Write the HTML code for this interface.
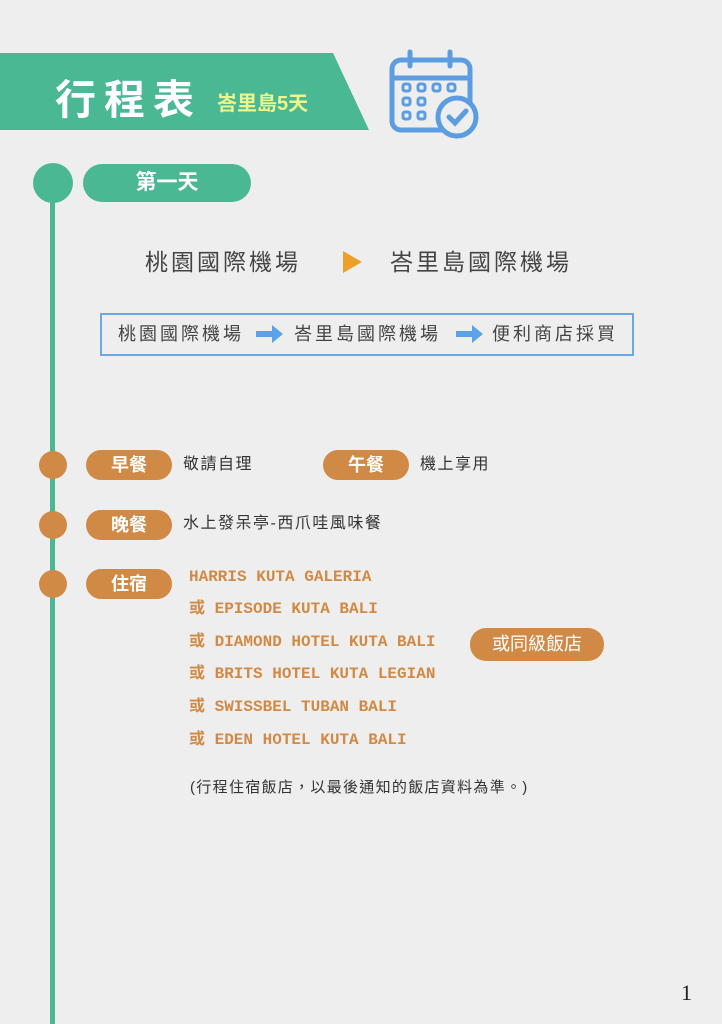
<!DOCTYPE html>
<html><head><meta charset="utf-8"><style>
*{margin:0;padding:0;box-sizing:border-box}
body{width:722px;height:1024px;background:#eeeeee;position:relative;overflow:hidden;font-family:"Liberation Sans","Noto Sans CJK TC",sans-serif;color:#333}
.a{position:absolute;white-space:nowrap}
.pill{position:absolute;border-radius:16px;color:#fff;font-weight:bold;text-align:center}
.o{background:#d08a45}
.dot{position:absolute;width:28px;height:28px;border-radius:50%;background:#d08a45;left:39px}
.t{position:absolute;left:183px;font-size:16px;color:#333;letter-spacing:1.5px;line-height:20px;white-space:nowrap}
.h{position:absolute;left:189px;font-family:"Liberation Mono","Noto Sans CJK TC",monospace;font-size:16px;line-height:20px;font-weight:bold;color:#d08a45;white-space:nowrap}
.b{position:absolute;top:323px;font-size:18px;color:#444;letter-spacing:3px;line-height:22px;white-space:nowrap}
</style></head><body>
<svg class="a" style="left:0;top:0" width="722" height="1024">
<polygon points="0,53 333,53 369,130 0,130" fill="#4ab893"/>
<rect x="50" y="185" width="5" height="839" fill="#4ab893"/>
<circle cx="53" cy="183" r="20" fill="#4ab893"/>
<g fill="none" stroke="#5b9de0" stroke-width="5" stroke-linecap="round">
<rect x="392" y="60" width="78" height="70" rx="9"/>
<line x1="392" y1="78" x2="470" y2="78"/>
<line x1="410" y1="52" x2="410" y2="66"/>
<line x1="450" y1="52" x2="450" y2="66"/>
<circle cx="457" cy="117" r="19" fill="#eeeeee"/>
<polyline points="449,117 455,123 466,111"/>
</g>
<g fill="none" stroke="#5b9de0" stroke-width="3">
<rect x="403" y="84" width="7" height="7" rx="2"/><rect x="418" y="84" width="7" height="7" rx="2"/><rect x="433" y="84" width="7" height="7" rx="2"/><rect x="448" y="84" width="7" height="7" rx="2"/>
<rect x="403" y="98" width="7" height="7" rx="2"/><rect x="418" y="98" width="7" height="7" rx="2"/>
<rect x="403" y="112" width="7" height="7" rx="2"/><rect x="418" y="112" width="7" height="7" rx="2"/>
</g>
<polygon points="343,251 362,262 343,273" fill="#eca02a"/>
<rect x="101" y="314" width="532" height="41" fill="none" stroke="#6ea6e2" stroke-width="2"/>
<polygon points="256,331 272,331 272,325 283,334 272,343 272,337 256,337" fill="#5aa3e8"/>
<polygon points="456,331 472,331 472,325 483,334 472,343 472,337 456,337" fill="#5aa3e8"/>
</svg>
<div class="a" style="left:55px;top:66px;font-size:41px;font-weight:bold;color:#fff;letter-spacing:8px">行程表</div>
<div class="a" style="left:217px;top:87px;font-size:20px;font-weight:bold;color:#eef58a">峇里島5天</div>
<div class="pill" style="left:83px;top:164px;width:168px;height:38px;border-radius:19px;background:#4ab893;font-size:21px;line-height:38px">第一天</div>
<div class="a" style="left:145px;top:248px;font-size:23px;line-height:28px;color:#444;letter-spacing:3px">桃園國際機場</div>
<div class="a" style="left:390px;top:248px;font-size:23px;line-height:28px;color:#444;letter-spacing:3px">峇里島國際機場</div>
<div class="b" style="left:118px">桃園國際機場</div>
<div class="b" style="left:294px">峇里島國際機場</div>
<div class="b" style="left:492px">便利商店採買</div>
<div class="dot" style="top:451px"></div>
<div class="dot" style="top:511px"></div>
<div class="dot" style="top:570px"></div>
<div class="pill o" style="left:86px;top:450px;width:86px;height:30px;font-size:18px;line-height:30px">早餐</div>
<div class="pill o" style="left:323px;top:450px;width:86px;height:30px;font-size:18px;line-height:30px">午餐</div>
<div class="pill o" style="left:86px;top:510px;width:86px;height:30px;font-size:18px;line-height:30px">晚餐</div>
<div class="pill o" style="left:86px;top:569px;width:86px;height:30px;font-size:18px;line-height:30px">住宿</div>
<div class="t" style="top:455px">敬請自理</div>
<div class="t" style="left:420px;top:455px">機上享用</div>
<div class="t" style="top:514px">水上發呆亭-西爪哇風味餐</div>
<div class="h" style="top:567px">HARRIS KUTA GALERIA</div>
<div class="h" style="top:599px">或 EPISODE KUTA BALI</div>
<div class="h" style="top:632px">或 DIAMOND HOTEL KUTA BALI</div>
<div class="h" style="top:664px">或 BRITS HOTEL KUTA LEGIAN</div>
<div class="h" style="top:697px">或 SWISSBEL TUBAN BALI</div>
<div class="h" style="top:730px">或 EDEN HOTEL KUTA BALI</div>
<div class="pill o" style="left:470px;top:628px;width:134px;height:33px;font-size:18px;line-height:33px;font-weight:normal">或同級飯店</div>
<div class="a" style="left:190px;top:778px;font-size:15px;line-height:20px;color:#333;letter-spacing:1.3px">(行程住宿飯店，以最後通知的飯店資料為準。)</div>
<div class="a" style="left:681px;top:980px;font-size:22px;font-family:'Liberation Serif',serif;color:#222">1</div>
</body></html>
